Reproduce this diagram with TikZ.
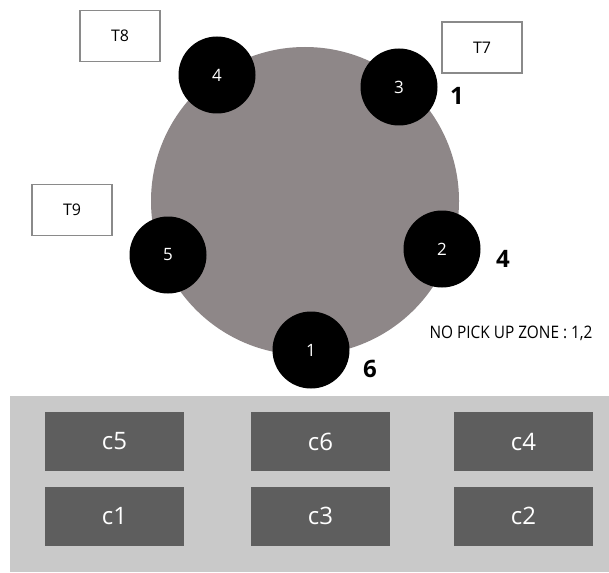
\documentclass[tikz,border=0pt]{standalone}
\usepackage{fontspec}
\setmainfont{Open Sans}
\definecolor{disc}{HTML}{8E8788}
\definecolor{panel}{HTML}{C9C9C9}
\definecolor{cbox}{HTML}{5E5E5E}
\definecolor{tedge}{HTML}{8A8A8A}
\begin{document}
\begin{tikzpicture}[x=1pt,y=-1pt,
  ball/.style={circle,fill=black,minimum size=77pt,inner sep=0pt,text=white,font=\fontsize{17}{17}\selectfont},
  side/.style={font=\fontsize{24}{24}\selectfont\bfseries,inner sep=0pt},
  tbox/.style={draw=tedge,line width=1.1pt,fill=white,minimum width=80pt,minimum height=51pt,inner sep=0pt,font=\fontsize{16}{16}\selectfont},
  cbox/.style={fill=cbox,minimum width=139pt,minimum height=59pt,inner sep=0pt,text=white,font=\fontsize{24}{24}\selectfont}]
\useasboundingbox (0,0) rectangle (609,572);
\fill[white] (0,0) rectangle (609,572);
% big disc
\node[circle,fill=disc,minimum size=308pt,inner sep=0pt] (disc) at (305,201) {};
% balls
\node[ball] (b4) at (217,75) {4};
\node[ball] (b3) at (399,87) {3};
\node[ball] (b2) at (442,249) {2};
\node[ball] (b5) at (168,255) {5};
\node[ball] (b1) at (311,350) {1};
% side numbers
\node[side] (s1) at (457,96) {1};
\node[side] (s4) at (503,259) {4};
\node[side] (s6) at (370,369) {6};
% T boxes
\node[tbox] (t8) at (120,36) {T8};
\node[tbox] (t7) at (482,47.5) {T7};
\node[tbox] (t9) at (72,210) {T9};
% note
\node[inner sep=0pt] (note) at (511,333) {\resizebox{163pt}{12.5pt}{\fontsize{18}{18}\selectfont NO PICK UP ZONE : 1,2}};
% panel
\node[fill=panel,minimum width=599pt,minimum height=176pt,inner sep=0pt] (panel) at (309.5,484) {};
\node[cbox] (c5) at (114.5,441.5) {c5};
\node[cbox] (c6) at (320.5,441.5) {c6};
\node[cbox] (c4) at (523.5,441.5) {c4};
\node[cbox] (c1) at (114.5,516) {c1};
\node[cbox] (c3) at (320.5,516) {c3};
\node[cbox] (c2) at (523.5,516) {c2};
\end{tikzpicture}
\end{document}
